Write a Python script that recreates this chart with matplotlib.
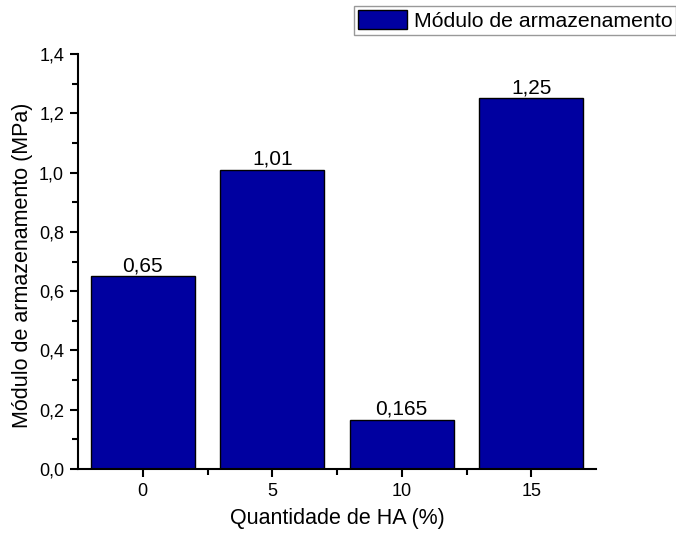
import matplotlib.pyplot as plt
from matplotlib.ticker import MultipleLocator, FuncFormatter

categorias = ['0', '5', '10', '15']
modulo = [0.65, 1.01, 0.165, 1.25]
rotulos = ['0,65', '1,01', '0,165', '1,25']

plt.rcParams['font.family'] = ['Liberation Sans', 'DejaVu Sans']

fig = plt.figure(figsize=(6.76, 5.35), dpi=100)
ax = fig.add_axes([78 / 676, 1 - 469 / 535, (596 - 78) / 676, (469 - 54) / 535])

x = range(len(categorias))
barras = ax.bar(x, modulo, width=0.8, color='#0000A0', edgecolor='black',
                linewidth=1.0, label='Módulo de armazenamento')
for xi, v, txt in zip(x, modulo, rotulos):
    ax.text(xi, v + 0.004, txt, ha='center', va='bottom', fontsize=15)

ax.set_xlim(-0.5, 3.5)
ax.set_ylim(0, 1.4)
ax.set_xticks(list(x))
ax.set_xticklabels(categorias)
ax.set_xticks([0.5, 1.5, 2.5], minor=True)
ax.yaxis.set_major_locator(MultipleLocator(0.2))
ax.yaxis.set_minor_locator(MultipleLocator(0.1))
ax.yaxis.set_major_formatter(FuncFormatter(lambda v, p: f'{v:.1f}'.replace('.', ',')))

for s in ['top', 'right']:
    ax.spines[s].set_visible(False)
for s in ['left', 'bottom']:
    ax.spines[s].set_linewidth(1.5)
ax.tick_params(which='major', direction='out', length=6, width=1.5, labelsize=13, pad=4)
ax.tick_params(which='minor', direction='out', length=4, width=1.5)

ax.set_xlabel('Quantidade de HA (%)', fontsize=15.5, labelpad=6)
ax.set_ylabel('Módulo de armazenamento (MPa)', fontsize=15.5)
ax.yaxis.set_label_coords(-0.087, 0.49)

leg = fig.legend(loc='upper left', bbox_to_anchor=(354 / 676, 1 - 6 / 535),
                 fontsize=15.3, fancybox=False, frameon=True, borderpad=0.2,
                 handlelength=2.3, handleheight=1.0, handletextpad=0.3,
                 borderaxespad=0)
leg.get_frame().set_edgecolor('#808080')
leg.get_frame().set_linewidth(1.0)

fig.savefig('out.png', dpi=100)
